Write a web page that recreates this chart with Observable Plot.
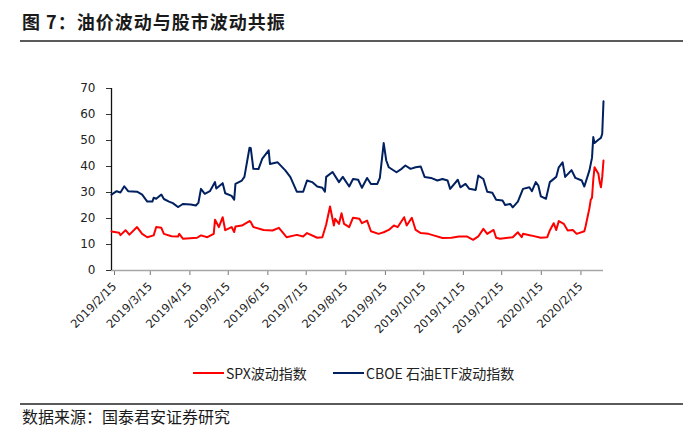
<!DOCTYPE html>
<html>
<head>
<meta charset="utf-8">
<script src="https://cdn.jsdelivr.net/npm/d3@7"></script>
<script src="https://cdn.jsdelivr.net/npm/@observablehq/plot@0.6"></script>
<style>
  html, body { margin: 0; padding: 0; background: #fff; }
  #wrap { position: relative; width: 700px; height: 444px; overflow: hidden; font-family: "Noto Sans CJK SC", "Noto Sans", sans-serif; }
  #title { position: absolute; left: 22px; top: 9px; font-size: 18px; font-weight: 700; color: #1a1a1a; line-height: 24px; white-space: nowrap; letter-spacing: 1px; }
  .rule { position: absolute; left: 20px; width: 663px; height: 2px; background: #5a5a5a; }
  #chart { position: absolute; left: 0; top: 60px; }
  #legend { position: absolute; top: 363px; left: 0; width: 700px; height: 20px; font-size: 14px; color: #222; }
  .item { position: absolute; top: 0; display: flex; align-items: center; height: 20px; white-space: nowrap; }
  .swatch { width: 31px; height: 2px; margin-right: 2px; }
  #source { position: absolute; left: 22px; top: 405px; font-size: 16px; color: #1a1a1a; line-height: 22px; white-space: nowrap; }
</style>
</head>
<body>
<div id="wrap">
  <div id="title">图 7：油价波动与股市波动共振</div>
  <div class="rule" style="top:40px"></div>
  <div id="chart"></div>
  <div id="legend"></div>
  <div class="rule" style="top:403px"></div>
  <div id="source">数据来源：国泰君安证券研究</div>
</div>
<script>
// ---- data ----
const seriesNames = ["SPX波动指数", "CBOE 石油ETF波动指数"];
const seriesColors = ["#ff0000", "#002060"];

const xTickLabels = ["2019/2/15","2019/3/15","2019/4/15","2019/5/15","2019/6/15","2019/7/15","2019/8/15","2019/9/15","2019/10/15","2019/11/15","2019/12/15","2020/1/15","2020/2/15"];
const yTicks = [0, 10, 20, 30, 40, 50, 60, 70];
const xDomain = ["2019-02-15", "2020-03-06"];

const spxDates = ["2019-02-15","2019-02-21","2019-02-22","2019-02-26","2019-03-01","2019-03-07","2019-03-11","2019-03-15","2019-03-20","2019-03-22","2019-03-26","2019-03-28","2019-04-03","2019-04-08","2019-04-09","2019-04-12","2019-04-23","2019-04-26","2019-05-01","2019-05-06","2019-05-07","2019-05-10","2019-05-13","2019-05-15","2019-05-20","2019-05-22","2019-05-23","2019-05-28","2019-06-03","2019-06-04","2019-06-06","2019-06-14","2019-06-21","2019-06-26","2019-07-02","2019-07-10","2019-07-15","2019-07-18","2019-07-26","2019-07-30","2019-08-02","2019-08-05","2019-08-08","2019-08-09","2019-08-12","2019-08-14","2019-08-16","2019-08-20","2019-08-23","2019-08-28","2019-08-30","2019-09-03","2019-09-06","2019-09-12","2019-09-16","2019-09-20","2019-09-24","2019-09-27","2019-10-02","2019-10-04","2019-10-08","2019-10-11","2019-10-15","2019-10-21","2019-10-25","2019-11-01","2019-11-08","2019-11-14","2019-11-20","2019-11-25","2019-11-29","2019-12-03","2019-12-06","2019-12-11","2019-12-13","2019-12-16","2019-12-26","2019-12-30","2020-01-02","2020-01-03","2020-01-09","2020-01-17","2020-01-22","2020-01-24","2020-01-27","2020-01-29","2020-01-31","2020-02-04","2020-02-07","2020-02-11","2020-02-14","2020-02-20","2020-02-21","2020-02-24","2020-02-25","2020-02-26","2020-02-27","2020-02-28","2020-03-02","2020-03-03","2020-03-04","2020-03-05","2020-03-06"];
const spxValues = [15,14.5,13.6,15.5,13.8,16.7,14.1,12.8,13.5,16.7,16.4,14.1,13.2,13.1,14.1,12.2,12.6,13.5,12.8,14.1,19.5,16.7,20.5,15.5,16.7,14.8,16.9,17.3,19,18.6,16.7,15.6,15.4,16.4,12.8,13.7,13.1,14.4,12.6,12.8,17.7,24.6,17.3,19.9,17.9,22,17.9,16.7,20.3,19.9,18.2,19.2,15.1,14.1,14.7,15.6,17.3,16.7,20.5,17.3,20.3,15.6,14.4,14.1,13.5,12.5,12.6,13.1,13.1,11.8,13.1,16,14.1,15.6,12.6,12.2,12.8,14.7,12.8,14.1,13.5,12.6,12.8,15.4,18.2,15.6,19,17.9,15.4,15.6,14.1,15.1,17,24,27.2,28,35,39.7,37.2,34,32,36,42.3];

const ovxDates = ["2019-02-15","2019-02-19","2019-02-22","2019-02-25","2019-02-28","2019-03-07","2019-03-11","2019-03-15","2019-03-19","2019-03-20","2019-03-22","2019-03-26","2019-03-28","2019-04-01","2019-04-04","2019-04-08","2019-04-10","2019-04-12","2019-04-18","2019-04-22","2019-04-24","2019-04-26","2019-04-29","2019-05-03","2019-05-07","2019-05-08","2019-05-13","2019-05-15","2019-05-20","2019-05-22","2019-05-23","2019-05-28","2019-05-30","2019-06-03","2019-06-04","2019-06-06","2019-06-10","2019-06-13","2019-06-18","2019-06-19","2019-06-25","2019-07-01","2019-07-05","2019-07-10","2019-07-15","2019-07-18","2019-07-22","2019-07-26","2019-07-30","2019-08-01","2019-08-02","2019-08-07","2019-08-12","2019-08-15","2019-08-20","2019-08-23","2019-08-27","2019-08-30","2019-09-03","2019-09-06","2019-09-11","2019-09-13","2019-09-16","2019-09-18","2019-09-20","2019-09-26","2019-09-30","2019-10-03","2019-10-07","2019-10-11","2019-10-15","2019-10-18","2019-10-23","2019-10-28","2019-11-01","2019-11-05","2019-11-07","2019-11-13","2019-11-15","2019-11-19","2019-11-22","2019-11-27","2019-11-29","2019-12-03","2019-12-06","2019-12-10","2019-12-13","2019-12-18","2019-12-20","2019-12-24","2019-12-26","2019-12-30","2020-01-03","2020-01-08","2020-01-10","2020-01-13","2020-01-15","2020-01-17","2020-01-21","2020-01-24","2020-01-29","2020-01-31","2020-02-03","2020-02-05","2020-02-10","2020-02-13","2020-02-18","2020-02-20","2020-02-24","2020-02-26","2020-02-27","2020-02-28","2020-03-02","2020-03-04","2020-03-05","2020-03-06"];
const ovxValues = [29.2,30.5,30,32.4,30.5,30.3,29.2,26.5,26.5,28,27.6,29.2,27.5,26.5,25.9,24.4,25,25.6,25.4,25,26,31.4,29.5,30.5,34,31.5,33.6,29.7,28.7,27.2,33.3,34.6,36,47.2,47,39.1,39,43,46.2,41,41.6,38.5,35.9,30.3,30.3,34.6,34,32.3,31.8,30.3,36,37.9,34,36,32.3,35.2,34.9,31.8,35.6,33.3,33.3,35.6,49,42.3,39.7,37.8,39.1,40.4,39.1,39.7,40,36,35.6,34.6,35.2,34.6,31.4,34.9,32,33.3,31.4,31,36.5,35.2,30.3,29.9,27.2,26.9,25.2,25.6,24.3,26.5,31.4,32,30.5,34,32.7,28.5,27.6,34,36,39.7,41.6,36,38.6,35.6,34.6,32.3,38.5,43.3,51.3,49,50.3,51,52.6,65.1];

// ---- build ----
const parse = d3.utcParse("%Y-%m-%d");
const spx = spxDates.map((d, i) => ({date: parse(d), value: spxValues[i]}));
const ovx = ovxDates.map((d, i) => ({date: parse(d), value: ovxValues[i]}));
const xTicks = xTickLabels.map(s => { const [y, m, d] = s.split("/").map(Number); return new Date(Date.UTC(y, m - 1, d)); });
const fmt = d3.utcFormat("%Y/%-m/%-d");

const chart = Plot.plot({
  width: 700,
  height: 290,
  marginLeft: 111,
  marginRight: 97,
  marginTop: 28,
  marginBottom: 80,
  style: {fontFamily: "'DejaVu Sans', Verdana, sans-serif", fontSize: "12px", color: "#222", background: "transparent", overflow: "visible"},
  x: {type: "utc", domain: xDomain.map(parse)},
  y: {domain: [0, 70]},
  marks: [
    Plot.axisY({ticks: yTicks, tickSize: 5, tickPadding: 11, label: null, fontSize: 12, stroke: "#333"}),
    Plot.axisX({ticks: xTicks, tickFormat: fmt, tickRotate: -45, tickSize: 5, tickPadding: 9, label: null, fontSize: 11.5, stroke: "#777", dx: 3}),
    Plot.ruleY([0], {stroke: "#a6a6a6", strokeWidth: 1.5}),
    Plot.ruleX([parse(xDomain[0])], {stroke: "#111", strokeWidth: 1.3}),
    Plot.line(spx, {x: "date", y: "value", stroke: seriesColors[0], strokeWidth: 2}),
    Plot.line(ovx, {x: "date", y: "value", stroke: seriesColors[1], strokeWidth: 2})
  ]
});
document.getElementById("chart").appendChild(chart);

// legend
const legend = document.getElementById("legend");
const lefts = [193, 333];
seriesNames.forEach((name, i) => {
  const item = document.createElement("div");
  item.className = "item";
  item.style.left = lefts[i] + "px";
  const sw = document.createElement("span");
  sw.className = "swatch";
  sw.style.background = seriesColors[i];
  const tx = document.createElement("span");
  tx.textContent = name;
  item.appendChild(sw);
  item.appendChild(tx);
  legend.appendChild(item);
});
</script>
</body>
</html>
